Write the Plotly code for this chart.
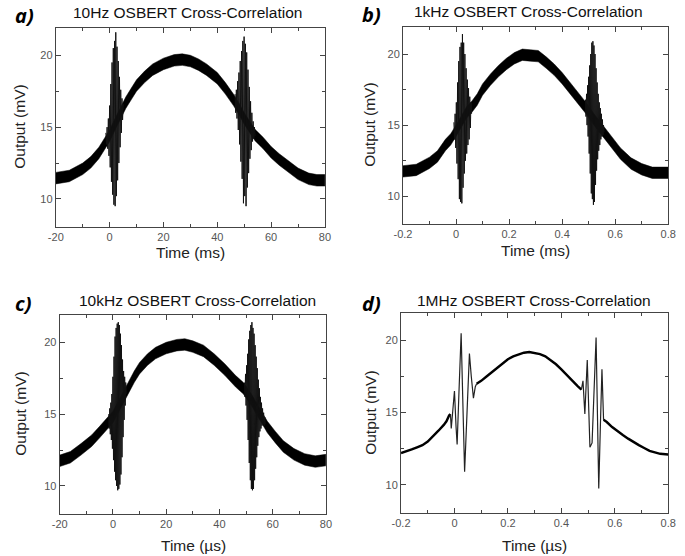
import plotly.graph_objects as go

# ---------------- data ----------------
# Panel a: 10 Hz, time in ms
a_band_t = [-20, -15, -10, -7, -4, -2, 0, 2, 4, 6, 8, 10, 13, 16, 20, 24, 27, 30, 33, 36, 40, 43, 46, 48, 50, 52, 54, 57, 60, 63, 66, 70, 74, 77, 80]
a_band_hi = [11.85, 12.0, 12.5, 12.95, 13.6, 14.2, 14.8, 15.6, 16.4, 17.1, 17.7, 18.3, 18.9, 19.4, 19.8, 20.05, 20.1, 20.0, 19.75, 19.4, 18.8, 18.1, 17.3, 16.7, 16.0, 15.4, 14.85, 14.3, 13.65, 13.15, 12.7, 12.15, 11.8, 11.7, 11.7]
a_band_lo = [11.05, 11.2, 11.7, 12.15, 12.8, 13.4, 14.0, 14.8, 15.6, 16.3, 16.9, 17.5, 18.1, 18.6, 19.0, 19.25, 19.3, 19.2, 18.95, 18.6, 18.0, 17.3, 16.5, 15.9, 15.2, 14.6, 14.05, 13.5, 12.85, 12.35, 11.9, 11.35, 11.0, 10.9, 10.9]
a_burst1_t = [-1.4, -1.17, -0.94, -0.71, -0.48, -0.25, -0.02, 0.21, 0.44, 0.67, 0.9, 1.13, 1.36, 1.59, 1.82, 2.05, 2.28, 2.51, 2.74, 2.97, 3.2, 3.43, 3.66, 3.89, 4.12, 4.35, 4.58, 4.81, 5.04]
a_burst1_v = [14.6, 13.8, 15.0, 13.5, 15.6, 13.0, 16.5, 12.2, 18.0, 11.2, 19.5, 10.3, 20.5, 9.6, 21.0, 9.5, 21.6, 10.2, 20.6, 11.3, 19.6, 12.5, 18.5, 13.6, 17.6, 14.6, 17.0, 15.5, 16.6]
a_burst2_t = [46.6, 46.84, 47.08, 47.32, 47.56, 47.8, 48.04, 48.28, 48.52, 48.76, 49.0, 49.24, 49.48, 49.72, 49.96, 50.2, 50.44, 50.68, 50.92, 51.16, 51.4, 51.64, 51.88, 52.12, 52.36, 52.6, 52.84, 53.08, 53.32, 53.56, 53.8, 54.04]
a_burst2_v = [17.3, 16.0, 17.6, 15.6, 18.2, 14.8, 18.8, 13.8, 19.6, 12.6, 20.3, 11.4, 21.0, 9.7, 21.3, 10.2, 20.8, 9.5, 20.2, 10.8, 19.0, 11.8, 17.8, 12.8, 16.8, 13.4, 16.0, 14.0, 15.4, 14.2, 15.0, 14.4]

# Panel b: 1 kHz, time in ms
b_band_t = [-0.2, -0.15, -0.1, -0.07, -0.04, -0.02, 0.0, 0.02, 0.04, 0.06, 0.08, 0.1, 0.13, 0.16, 0.19, 0.22, 0.25, 0.28, 0.31, 0.34, 0.37, 0.4, 0.43, 0.46, 0.49, 0.52, 0.55, 0.58, 0.62, 0.66, 0.7, 0.74, 0.8]
b_band_hi = [12.15, 12.25, 12.75, 13.2, 14.0, 14.4, 15.0, 15.6, 16.3, 16.7, 17.2, 17.9, 18.6, 19.2, 19.7, 20.1, 20.35, 20.3, 20.25, 19.8, 19.3, 18.7, 18.0, 17.3, 16.6, 15.8, 15.1, 14.4, 13.4, 12.7, 12.3, 12.05, 12.05]
b_band_lo = [11.35, 11.45, 11.95, 12.4, 13.2, 13.6, 14.2, 14.8, 15.5, 15.9, 16.4, 17.1, 17.8, 18.4, 18.9, 19.3, 19.55, 19.5, 19.45, 19.0, 18.5, 17.9, 17.2, 16.5, 15.8, 15.0, 14.3, 13.6, 12.6, 11.9, 11.5, 11.25, 11.25]
b_burst1_t = [-0.008, -0.0057, -0.0034, -0.0011, 0.0012, 0.0035, 0.0058, 0.0081, 0.0104, 0.0127, 0.015, 0.0173, 0.0196, 0.0219, 0.0242, 0.0265, 0.0288, 0.0311, 0.0334, 0.0357, 0.038, 0.0403, 0.0426, 0.0449, 0.0472, 0.0495, 0.0518, 0.0541, 0.0564, 0.0587]
b_burst1_v = [15.2, 14.0, 15.8, 13.4, 16.6, 12.3, 18.0, 11.2, 19.5, 9.8, 20.5, 9.6, 20.8, 9.5, 21.4, 10.6, 20.8, 11.6, 20.0, 12.5, 19.0, 13.0, 18.2, 13.6, 17.6, 14.0, 17.0, 14.8, 16.6, 15.8]
b_burst2_t = [0.488, 0.490, 0.492, 0.494, 0.496, 0.498, 0.500, 0.502, 0.504, 0.506, 0.508, 0.510, 0.512, 0.514, 0.516, 0.518, 0.520, 0.522, 0.524, 0.526, 0.528, 0.530, 0.532, 0.534, 0.536, 0.538, 0.540, 0.542, 0.544, 0.546, 0.548, 0.550, 0.552, 0.554, 0.556, 0.558]
b_burst2_v = [16.8, 15.6, 17.2, 15.0, 17.8, 14.2, 18.4, 13.0, 19.2, 11.6, 20.0, 10.2, 20.8, 9.8, 20.9, 9.4, 20.6, 9.6, 20.0, 10.8, 19.0, 11.8, 18.0, 12.6, 17.2, 13.2, 16.6, 13.6, 16.2, 14.0, 15.8, 14.2, 15.4, 14.3, 15.0, 14.5]

# Panel c: 10 kHz, time in us
c_band_t = [-20, -16, -12, -8, -5, -2, 0, 2, 4, 6, 8, 10, 13, 16, 20, 24, 27, 30, 34, 38, 42, 46, 49, 52, 55, 58, 61, 64, 68, 72, 76, 80]
c_band_hi = [12.15, 12.4, 12.95, 13.55, 14.15, 14.75, 15.2, 15.9, 16.6, 17.4, 18.0, 18.6, 19.2, 19.65, 20.0, 20.2, 20.25, 20.1, 19.8, 19.2, 18.5, 17.7, 17.2, 16.4, 15.4, 14.5, 13.8, 13.15, 12.6, 12.25, 12.1, 12.2]
c_band_lo = [11.35, 11.6, 12.15, 12.75, 13.35, 13.95, 14.4, 15.1, 15.8, 16.6, 17.2, 17.8, 18.4, 18.85, 19.2, 19.4, 19.45, 19.3, 19.0, 18.4, 17.7, 16.9, 16.4, 15.6, 14.6, 13.7, 13.0, 12.35, 11.8, 11.45, 11.3, 11.4]
c_burst1_t = [-1.6, -1.4, -1.2, -1.0, -0.8, -0.6, -0.4, -0.2, 0.0, 0.2, 0.4, 0.6, 0.8, 1.0, 1.2, 1.4, 1.6, 1.8, 2.0, 2.2, 2.4, 2.6, 2.8, 3.0, 3.2, 3.4, 3.6, 3.8, 4.0, 4.2, 4.4, 4.6, 4.8, 5.0]
c_burst1_v = [15.0, 14.0, 15.4, 13.6, 15.8, 13.2, 16.4, 12.6, 17.6, 11.8, 19.0, 11.0, 20.4, 10.4, 21.0, 10.0, 21.3, 9.7, 21.4, 9.8, 21.2, 10.1, 20.6, 10.8, 19.8, 12.0, 18.8, 13.4, 18.0, 14.6, 17.6, 15.6, 17.2, 16.4]
c_burst2_t = [49.4, 49.6, 49.8, 50.0, 50.2, 50.4, 50.6, 50.8, 51.0, 51.2, 51.4, 51.6, 51.8, 52.0, 52.2, 52.4, 52.6, 52.8, 53.0, 53.2, 53.4, 53.6, 53.8, 54.0, 54.2, 54.4, 54.6, 54.8, 55.0, 55.2, 55.4, 55.6, 55.8, 56.0, 56.2, 56.4, 56.6, 56.8, 57.0, 57.2]
c_burst2_v = [17.2, 16.2, 17.8, 15.6, 18.4, 14.6, 19.2, 13.2, 20.2, 11.6, 20.8, 10.4, 21.2, 9.8, 21.4, 9.7, 21.0, 9.8, 20.6, 10.4, 19.8, 11.2, 19.0, 12.0, 18.2, 12.8, 17.4, 13.4, 16.8, 13.8, 16.2, 14.0, 15.8, 14.2, 15.4, 14.3, 15.1, 14.2, 14.8, 14.3]

# Panel d: 1 MHz, time in us
d_base1_t = [-0.2, -0.18, -0.16, -0.14, -0.12, -0.10, -0.08, -0.06, -0.04, -0.03, -0.02, -0.015]
d_base1_v = [12.2, 12.3, 12.45, 12.6, 12.75, 13.0, 13.35, 13.75, 14.15, 14.4, 14.8, 14.9]
d_osc1_t = [-0.015, -0.012, -0.006, 0.0, 0.006, 0.010, 0.017, 0.025, 0.031, 0.038, 0.047, 0.056, 0.063, 0.071, 0.078, 0.083]
d_osc1_v = [14.9, 13.9, 15.2, 16.5, 14.0, 12.8, 16.5, 20.5, 16.0, 10.9, 15.0, 19.1, 17.5, 16.0, 16.8, 17.0]
d_base2_t = [0.083, 0.10, 0.12, 0.14, 0.16, 0.18, 0.20, 0.22, 0.24, 0.26, 0.28, 0.30, 0.32, 0.34, 0.36, 0.38, 0.40, 0.42, 0.44, 0.46, 0.475]
d_base2_v = [17.0, 17.2, 17.5, 17.8, 18.15, 18.45, 18.7, 18.9, 19.05, 19.15, 19.2, 19.15, 19.05, 18.9, 18.65, 18.35, 18.0, 17.6, 17.2, 16.85, 16.6]
d_osc2_t = [0.475, 0.481, 0.488, 0.497, 0.503, 0.507, 0.515, 0.522, 0.530, 0.535, 0.540, 0.546, 0.552, 0.558]
d_osc2_v = [16.6, 17.2, 14.9, 18.65, 15.0, 12.6, 12.9, 16.0, 20.2, 15.0, 9.75, 14.0, 18.0, 14.5]
d_base3_t = [0.558, 0.57, 0.59, 0.61, 0.63, 0.65, 0.67, 0.69, 0.71, 0.73, 0.75, 0.77, 0.80]
d_base3_v = [14.5, 14.35, 14.0, 13.7, 13.45, 13.2, 12.95, 12.75, 12.55, 12.35, 12.25, 12.15, 12.1]

panel_titles = ["10Hz OSBERT Cross-Correlation", "1kHz OSBERT Cross-Correlation",
                "10kHz OSBERT Cross-Correlation", "1MHz OSBERT Cross-Correlation"]
panel_letters = ["a)", "b)", "c)", "d)"]
x_titles = ["Time (ms)", "Time (ms)", "Time (\u00b5s)", "Time (\u00b5s)"]
y_title = "Output (mV)"
ms_ticks = [-20, 0, 20, 40, 60, 80]
ms_ticktext = ["-20", "0", "20", "40", "60", "80"]
frac_ticks = [-0.2, 0, 0.2, 0.4, 0.6, 0.8]
frac_ticktext = ["-0.2", "0", "0.2", "0.4", "0.6", "0.8"]
y_ticks = [10, 15, 20]

# ---------------- figure ----------------
W, H = 685, 556
fig = go.Figure()

def px_x(p):
    return p / W

def px_y(p):
    return 1 - p / H

# plot-area pixel boxes (left, right, top, bottom)
boxes = [(48, 324, 28, 227), (404, 676, 27, 224), (52, 325, 315, 514), (402, 676, 313, 513)]

def band(ax, t, hi, lo):
    xa = "x" if ax == 1 else f"x{ax}"
    ya = "y" if ax == 1 else f"y{ax}"
    fig.add_trace(go.Scatter(x=t, y=hi, mode="lines", line=dict(color="black", width=0.5),
                             xaxis=xa, yaxis=ya, showlegend=False, hoverinfo="skip"))
    fig.add_trace(go.Scatter(x=t, y=lo, mode="lines", line=dict(color="black", width=0.5),
                             fill="tonexty", fillcolor="black",
                             xaxis=xa, yaxis=ya, showlegend=False, hoverinfo="skip"))

def line(ax, t, v, width=1, color="#111"):
    xa = "x" if ax == 1 else f"x{ax}"
    ya = "y" if ax == 1 else f"y{ax}"
    fig.add_trace(go.Scatter(x=t, y=v, mode="lines", line=dict(color=color, width=width),
                             xaxis=xa, yaxis=ya, showlegend=False, hoverinfo="skip"))

band(1, a_band_t, a_band_hi, a_band_lo)
line(1, a_burst1_t, a_burst1_v)
line(1, a_burst2_t, a_burst2_v)

band(2, b_band_t, b_band_hi, b_band_lo)
line(2, b_burst1_t, b_burst1_v)
line(2, b_burst2_t, b_burst2_v)

band(3, c_band_t, c_band_hi, c_band_lo)
line(3, c_burst1_t, c_burst1_v)
line(3, c_burst2_t, c_burst2_v)

line(4, d_base1_t, d_base1_v, width=2.4, color="black")
line(4, d_osc1_t, d_osc1_v, width=1.2, color="#222")
line(4, d_base2_t, d_base2_v, width=2.4, color="black")
line(4, d_osc2_t, d_osc2_v, width=1.2, color="#222")
line(4, d_base3_t, d_base3_v, width=2.4, color="black")

tick_font = dict(family="Liberation Sans, Arial, sans-serif", size=11, color="#555")
layout = dict(width=W, height=H, margin=dict(l=0, r=0, t=0, b=0),
              paper_bgcolor="white", plot_bgcolor="white", showlegend=False)

x_ranges = [[-20, 80], [-0.2, 0.8], [-20, 80], [-0.2, 0.8]]
for i, (l, r, t, b) in enumerate(boxes):
    k = "" if i == 0 else str(i + 1)
    is_ms = i in (0, 2)
    layout["xaxis" + k] = dict(
        domain=[px_x(l), px_x(r)], anchor="y" + k, range=x_ranges[i],
        tickvals=ms_ticks if is_ms else frac_ticks,
        ticktext=ms_ticktext if is_ms else frac_ticktext,
        ticks="inside", ticklen=5, tickcolor="#444", tickwidth=1,
        minor=dict(ticks="inside", ticklen=3, tickcolor="#444",
                   dtick=10 if is_ms else 0.1, tick0=0, showgrid=False),
        showline=True, linecolor="#444", linewidth=1, mirror="ticks",
        showgrid=False, zeroline=False, tickfont=tick_font, fixedrange=True)
    layout["yaxis" + k] = dict(
        domain=[px_y(b), px_y(t)], anchor="x" + k, range=[8.05, 21.9],
        tickvals=y_ticks, ticktext=[str(v) for v in y_ticks],
        ticks="inside", ticklen=5, tickcolor="#444", tickwidth=1,
        minor=dict(ticks="inside", ticklen=3, tickcolor="#444", dtick=2.5, tick0=10, showgrid=False),
        showline=True, linecolor="#444", linewidth=1, mirror="ticks",
        showgrid=False, zeroline=False, tickfont=tick_font, fixedrange=True)

fig.update_layout(**layout)

ann = []
title_pos = [(183, 13), (533, 12), (193, 300), (538, 300)]
letter_pos = [(5, 1), (361, 0), (5, 289), (361, 289)]
xt_pos = [(186, 252), (540, 250), (189, 545), (539, 545)]
yt_pos = [(10, 127), (370, 125), (11, 414), (370, 413)]
for i in range(4):
    ann.append(dict(text=panel_titles[i], x=px_x(title_pos[i][0]), y=px_y(title_pos[i][1]),
                    xref="paper", yref="paper", showarrow=False, xanchor="center", yanchor="middle",
                    font=dict(family="Liberation Sans, Arial, sans-serif", size=15.5, color="#111")))
    ann.append(dict(text="<b><i>" + panel_letters[i] + "</i></b>", x=px_x(letter_pos[i][0]),
                    y=px_y(letter_pos[i][1]), xref="paper", yref="paper", showarrow=False,
                    xanchor="left", yanchor="top", borderpad=0,
                    font=dict(family="Open Sans, Liberation Sans, sans-serif", size=20, color="black")))
    ann.append(dict(text=x_titles[i], x=px_x(xt_pos[i][0]), y=px_y(xt_pos[i][1]),
                    xref="paper", yref="paper", showarrow=False, xanchor="center", yanchor="middle",
                    font=dict(family="Liberation Sans, Arial, sans-serif", size=15.5, color="#222")))
    ann.append(dict(text=y_title, x=px_x(yt_pos[i][0]), y=px_y(yt_pos[i][1]),
                    xref="paper", yref="paper", showarrow=False, xanchor="center", yanchor="middle",
                    textangle=-90,
                    font=dict(family="Liberation Sans, Arial, sans-serif", size=15.5, color="#222")))
fig.update_layout(annotations=ann)

fig.write_html("out.html",
               config={"displayModeBar": False},
               post_script="document.body.style.margin='0';document.body.style.padding='0';"
                           "document.body.style.overflow='hidden';")
